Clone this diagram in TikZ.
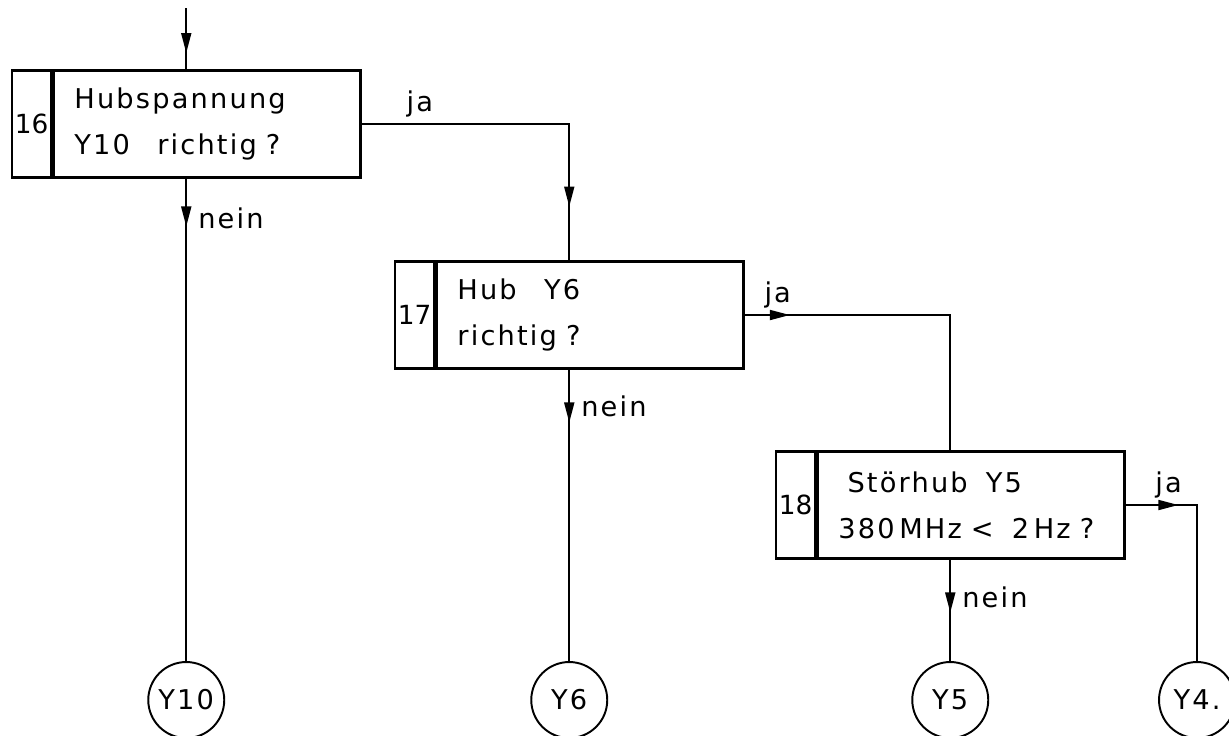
\documentclass[tikz,border=0pt]{standalone}
\usepackage{fontspec}
\setmainfont{DejaVu Sans}[LetterSpace=8]
\usetikzlibrary{arrows.meta, positioning, fit, decorations.markings}

\begin{document}
\begin{tikzpicture}[
    x=0.02cm, y=-0.02cm,
    >={Triangle[length=0.4cm, width=0.2cm]},
    every node/.style={font=\fontsize{15.5}{26}\selectfont},
    nummer/.style={draw, line width=1.3pt, minimum width=0.78cm, minimum height=2.14cm, inner sep=0pt,
                   font=\fontsize{15}{16}\selectfont\addfontfeature{LetterSpace=0}},                 % Feld mit Schrittnummer
    frage/.style={draw, line width=1.3pt, minimum width=6.14cm, minimum height=2.14cm,
                  text width=5.3cm, align=left, inner xsep=0.4cm},                                      % Feld mit Frage
    ende/.style={draw, circle, line width=1.1pt, minimum size=1.52cm, inner sep=0pt},                    % Verweiskreis
    linie/.style={line width=1pt},
    pfeil bei/.style={linie, postaction={decorate},
                      decoration={markings, mark=at position #1 with {\arrow{>}}}}
]
\useasboundingbox (0,0) rectangle (1229,735);

% ---- Schritt 16 ----
\node[nummer, anchor=west] (n16) at (11,124) {16};
\node[frage, right=0pt of n16] (t16) {Hubspannung\\Y10\ \ \ richtig ?};
\node[fit=(n16)(t16), inner sep=0pt] (b16) {};

% ---- Schritt 17 ----
\node[nummer, anchor=west] (n17) at (394,315) {17};
\node[frage, right=0pt of n17] (t17) {Hub\ \ \ Y6\\richtig ?};
\node[fit=(n17)(t17), inner sep=0pt] (b17) {};

% ---- Schritt 18 ----
\node[nummer, anchor=west] (n18) at (775,505) {18};
\node[frage, right=0pt of n18] (t18) {\ Störhub\ \ Y5\\380\,MHz < \ 2\,Hz ?};
\node[fit=(n18)(t18), inner sep=0pt] (b18) {};

% ---- Verweise unten ----
\coordinate (unten) at (0,700);
\node[ende] (y10) at (b16.south |- unten) {Y10};
\node[ende] (y6) at (b17.south |- unten) {Y6};
\node[ende] (y5) at (b18.south |- unten) {Y5};
\node[ende] (y4) at (1197,700) {Y4.};

% ---- Eingang ----
\coordinate (ein) at (b16.north |- 0,8);
\draw[pfeil bei=0.9cm] (ein) -- (b16.north);

% ---- ja-Zweige ----
\draw[pfeil bei=5.8cm] (b16.east) -| node[pos=0.14, above] {ja} (b17.north);
\draw[pfeil bei=0.9cm] (b17.east) -| node[pos=0.08, above] {ja} (b18.north);
\draw[pfeil bei=1.05cm] (b18.east) -| node[pos=0.3, above] {ja} (y4.north);

% ---- nein-Zweige ----
\draw[pfeil bei=0.95cm] (b16.south) -- node[pos=0.082, right=3pt] {nein} (y10.north);
\draw[pfeil bei=1.05cm] (b17.south) -- node[pos=0.125, right=3pt] {nein} (y6.north);
\draw[pfeil bei=1.05cm] (b18.south) -- node[pos=0.37, right=3pt] {nein} (y5.north);

\end{tikzpicture}
\end{document}
